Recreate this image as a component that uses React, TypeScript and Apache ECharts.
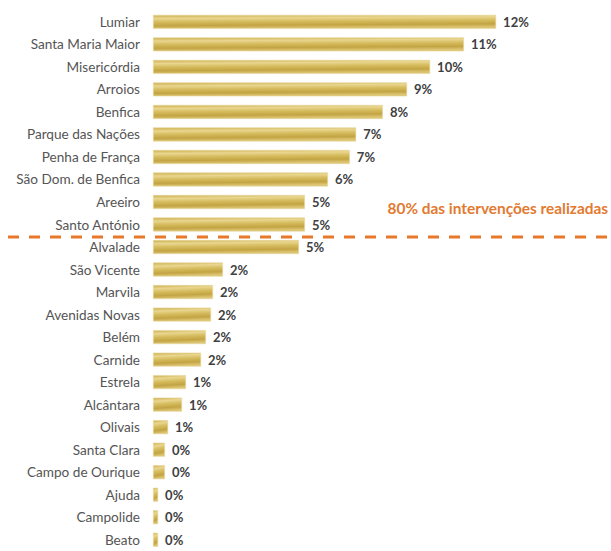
import React, { useEffect, useRef } from "react";
import * as echarts from "echarts";

const categories = [
  "Lumiar", "Santa Maria Maior", "Misericórdia", "Arroios", "Benfica",
  "Parque das Nações", "Penha de França", "São Dom. de Benfica", "Areeiro",
  "Santo António", "Alvalade", "São Vicente", "Marvila", "Avenidas Novas",
  "Belém", "Carnide", "Estrela", "Alcântara", "Olivais", "Santa Clara",
  "Campo de Ourique", "Ajuda", "Campolide", "Beato",
];
const values = [
  12.06, 10.93, 9.74, 8.93, 8.08, 7.14, 6.92, 6.15, 5.34, 5.34,
  5.13, 2.46, 2.11, 2.04, 1.86, 1.69, 1.16, 1.02, 0.53, 0.42,
  0.42, 0.18, 0.18, 0.18,
];
const annotationText = "80% das intervenções realizadas";
const thresholdAfter = "Santo António";
const thresholdBefore = "Alvalade";

export default function App() {
  const ref = useRef<HTMLDivElement>(null);
  useEffect(() => {
    if (!ref.current) return;
    const chart = echarts.init(ref.current, undefined, { renderer: "svg" });
    const barColor = new echarts.graphic.LinearGradient(0, 0, 0.15, 1, [
      { offset: 0, color: "#CDB04E" },
      { offset: 0.25, color: "#E9D690" },
      { offset: 0.5, color: "#D6BC5E" },
      { offset: 0.78, color: "#C3A443" },
      { offset: 1, color: "#DCC472" },
    ]);
    chart.setOption({
      animation: false,
      backgroundColor: "#FFFFFF",
      grid: { left: 153, top: 10.6, width: 426.75, height: 545.8, containLabel: false },
      xAxis: {
        type: "value",
        min: 0,
        max: 15,
        show: false,
      },
      yAxis: {
        type: "category",
        data: categories,
        inverse: true,
        axisLine: { show: false },
        axisTick: { show: false },
        axisLabel: {
          color: "#555555",
          fontFamily: "Lato",
          fontSize: 13.6,
          margin: 13,
        },
      },
      series: [
        {
          type: "bar",
          data: values,
          barWidth: 14,
          itemStyle: { color: barColor, borderColor: "#E8D8A0", borderWidth: 0.6 },
          label: {
            show: true,
            position: "right",
            distance: 7,
            color: "#404040",
            fontFamily: "Lato",
            fontWeight: "bold",
            fontSize: 13,
            formatter: (p: any) => Math.round(p.value) + "%",
          },
        },
      ],
    });
    const y1 = chart.convertToPixel({ yAxisIndex: 0 }, thresholdAfter) as number;
    const y2 = chart.convertToPixel({ yAxisIndex: 0 }, thresholdBefore) as number;
    const yLine = (y1 + y2) / 2 + 1.2;
    chart.setOption({
      graphic: [
        {
          type: "line",
          shape: { x1: 8, y1: yLine, x2: 611, y2: yLine },
          style: { stroke: "#E8782A", lineWidth: 3, lineDash: [11, 10] },
          z: 10,
        },
        {
          type: "text",
          right: 3,
          top: yLine - 36,
          style: {
            text: annotationText,
            fill: "#E27A30",
            font: "bold 15.4px Lato",
          },
          z: 10,
        },
      ],
    });
    return () => chart.dispose();
  }, []);
  return (
    <div
      ref={ref}
      style={{ position: "fixed", left: 0, top: 0, width: 611, height: 551 }}
    />
  );
}
